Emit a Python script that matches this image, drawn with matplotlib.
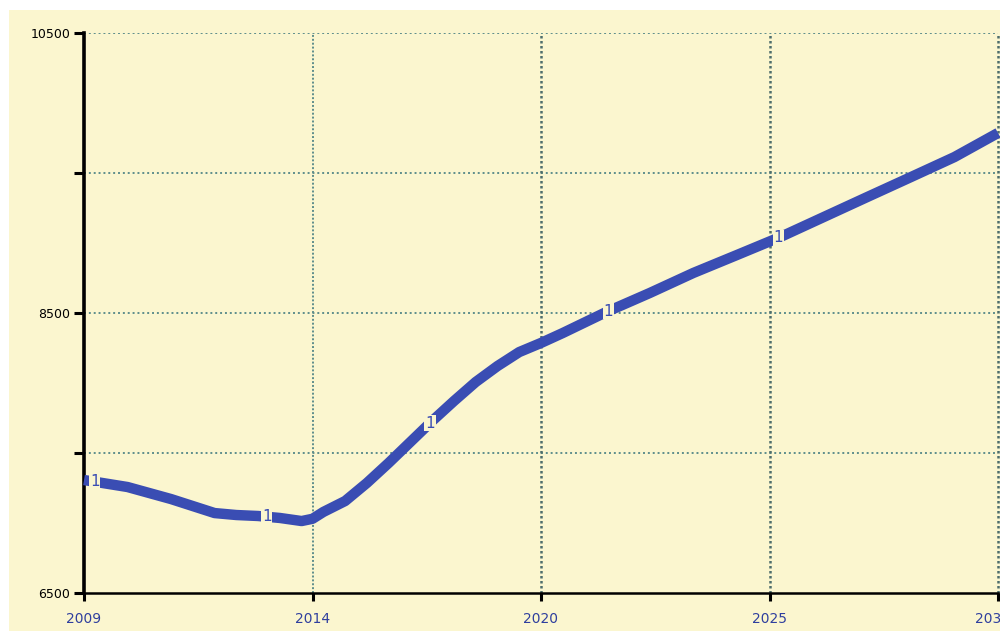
import matplotlib
matplotlib.use("Agg")
import matplotlib.pyplot as plt
import matplotlib.transforms as mtransforms
import numpy as np

# ---- data ----
years = [2009, 2010, 2011, 2012, 2012.5, 2013, 2013.5, 2014, 2014.25, 2014.5, 2015, 2015.5,
         2016, 2017, 2017.5, 2018, 2018.5, 2019, 2019.5, 2020, 2021, 2022, 2023, 2024,
         2025, 2026, 2027, 2028, 2029, 2030]
values = [7307, 7257, 7171, 7071, 7057, 7050, 7036, 7014, 7030, 7079, 7157, 7286,
          7429, 7729, 7871, 8007, 8121, 8221, 8286, 8357, 8507, 8643, 8786, 8914,
          9043, 9186, 9329, 9471, 9614, 9786]
x_ticks = [2009, 2014.25, 2019.5, 2024.75, 2030]
x_tick_labels = ["2009", "2014", "2020", "2025", "2030"]
y_ticks = [6500, 7500, 8500, 9500, 10500]
y_tick_labels = ["6500", "", "8500", "", "10500"]
marker_years = [2009.25, 2013.2, 2016.95, 2021.05, 2024.95]

cream = "#fbf6cf"
blue = "#3a4db3"
gridc = "#5e8e8c"
labc = "#2f3f9e"

fig = plt.figure(figsize=(10, 6.31), dpi=100, facecolor="white")
# cream panel
fig.patches.append(plt.Rectangle((0.009, 0.0), 0.991, 0.984, transform=fig.transFigure,
                                 facecolor=cream, edgecolor="none", zorder=-10))

ax = fig.add_axes([0.084, 1 - 593 / 631, 0.914, (593 - 33) / 631])
ax.set_facecolor(cream)
ax.set_xlim(2009, 2030)
ax.set_ylim(6500, 10500)

ax.plot(years, values, color=blue, lw=7.5, solid_capstyle="butt", solid_joinstyle="round",
        zorder=3, clip_on=False)

# line-number markers
mv = np.interp(marker_years, years, values)
for xm, ym in zip(marker_years, mv):
    ax.text(xm, ym, "1", color=blue, fontsize=11, ha="center", va="center",
            zorder=4, bbox=dict(boxstyle="square,pad=0.05", facecolor=cream, edgecolor="none"))

# grid
for yv in y_ticks[1:]:
    ax.axhline(yv, color=gridc, lw=1.4, ls=(0, (1, 1.5)), zorder=1)
for i, xv in enumerate(x_ticks[1:]):
    ax.axvline(xv, color=gridc if i == 0 else "#4e6e6c", lw=1.4 if i == 0 else 1.8,
               ls=(0, (1, 1.0)), zorder=1, clip_on=False)

for s in ["top", "right"]:
    ax.spines[s].set_visible(False)
ax.spines["left"].set_linewidth(2.6)
ax.spines["bottom"].set_linewidth(1.8)

ax.set_xticks(x_ticks)
ax.set_xticklabels(x_tick_labels[:-1] + [""], color=labc, fontsize=10)
ax.set_yticks(y_ticks)
ax.set_yticklabels(y_tick_labels, color="black", fontsize=9)
ax.tick_params(axis="y", direction="out", length=7, width=2.2, pad=3)
ax.tick_params(axis="x", direction="out", length=6, width=2.2, pad=8)

# last x label, partially cut by the figure edge as in the reference
trans = mtransforms.blended_transform_factory(ax.transData, ax.transAxes) + \
    mtransforms.ScaledTranslation(-6 / 100, -26 / 100, fig.dpi_scale_trans)
ax.text(x_ticks[-1], 0, x_tick_labels[-1], transform=trans, color=labc, fontsize=10,
        ha="center", va="center", clip_on=False)

fig.savefig("out.png", dpi=100, facecolor="white")
